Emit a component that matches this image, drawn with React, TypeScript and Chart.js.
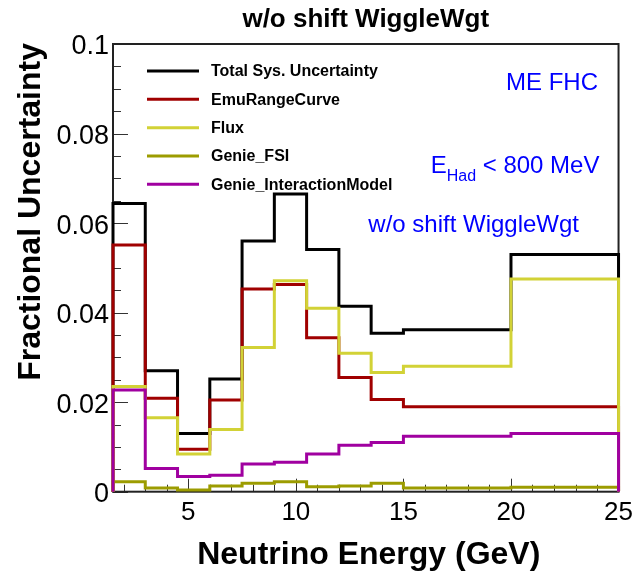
import { useEffect, useRef } from 'react';
import { Chart, registerables } from 'chart.js';

Chart.register(...registerables);

// ---- data ----
const binEdges = [1.5, 3, 4.5, 6, 7.5, 9, 10.5, 12, 13.5, 15, 20, 25];
const totalSys = [0.0644, 0.0270, 0.0130, 0.0252, 0.0560, 0.0665, 0.0541, 0.0414, 0.0354, 0.0362, 0.0530];
const emuRangeCurve = [0.0551, 0.0209, 0.0095, 0.0205, 0.0453, 0.0463, 0.0344, 0.0255, 0.0206, 0.0190, 0.0190];
const flux = [0.0235, 0.0165, 0.0084, 0.0139, 0.0322, 0.0471, 0.0410, 0.0309, 0.0266, 0.0280, 0.0475];
const genieFSI = [0.0022, 0.0008, 0.0004, 0.0013, 0.0019, 0.0022, 0.0011, 0.0013, 0.0019, 0.0008, 0.0010];
const genieInteraction = [0.0227, 0.0052, 0.0034, 0.0037, 0.0062, 0.0066, 0.0084, 0.0104, 0.0110, 0.0124, 0.0130];

const seriesLabels = ['Total Sys. Uncertainty', 'EmuRangeCurve', 'Flux', 'Genie_FSI', 'Genie_InteractionModel'];
const seriesColors = ['#000000', '#a00000', '#d2d236', '#9c9c00', '#a000a0'];

const xTickValues = [5, 10, 15, 20, 25];
const xMinorStep = 1;
const yTickValues = [0, 0.02, 0.04, 0.06, 0.08, 0.1];
const yMinorStep = 0.005;

const chartTitle = 'w/o shift WiggleWgt';
const xTitle = 'Neutrino Energy (GeV)';
const yTitle = 'Fractional Uncertainty';
const noteBeam = 'ME FHC';
const noteCutMain = 'E';
const noteCutSub = 'Had';
const noteCutRest = ' < 800 MeV';
const noteShift = 'w/o shift WiggleWgt';

const FONT = '"Liberation Sans", Arial, Helvetica, sans-serif';

function toStepPoints(vals: number[]) {
  const n = vals.length;
  const pts = [{ x: binEdges[0], y: 0 }];
  vals.forEach((v, i) => pts.push({ x: binEdges[i], y: v }));
  pts.push({ x: binEdges[n], y: vals[n - 1] });
  pts.push({ x: binEdges[n], y: 0 });
  return pts;
}

const rootPlugin = {
  id: 'rootStyle',
  beforeDatasetsDraw(chart: any) {
    const { ctx, chartArea: a, scales } = chart;
    const xs = scales.x;
    const ys = scales.y;
    ctx.save();
    ctx.strokeStyle = '#333';
    ctx.lineWidth = 1;
    // y ticks
    const yMin = ys.min, yMax = ys.max;
    const nY = Math.round((yMax - yMin) / yMinorStep);
    for (let k = 0; k <= nY; k++) {
      const v = yMin + k * yMinorStep;
      const major = yTickValues.some((t) => Math.abs(t - v) < 1e-9);
      const py = Math.round(ys.getPixelForValue(v)) + 0.5;
      const len = major ? 15 : 8;
      ctx.beginPath();
      ctx.moveTo(a.left, py);
      ctx.lineTo(a.left + len, py);
      ctx.stroke();
    }
    // x ticks
    for (let v = Math.ceil(xs.min); v <= xs.max + 1e-9; v += xMinorStep) {
      const major = xTickValues.includes(v);
      const px = Math.round(xs.getPixelForValue(v)) + 0.5;
      const len = major ? 13 : 7;
      ctx.beginPath();
      ctx.moveTo(px, a.bottom);
      ctx.lineTo(px, a.bottom - len);
      ctx.stroke();
    }
    // frame
    ctx.strokeStyle = '#222';
    ctx.lineWidth = 2;
    ctx.strokeRect(a.left, a.top, a.right - a.left, a.bottom - a.top);
    ctx.restore();
  },
  afterDraw(chart: any) {
    const { ctx, chartArea: a } = chart;
    ctx.save();
    // title
    ctx.fillStyle = '#000';
    ctx.font = `bold 26px ${FONT}`;
    ctx.textAlign = 'center';
    ctx.textBaseline = 'alphabetic';
    ctx.fillText(chartTitle, (a.left + a.right) / 2, 26.5);

    // x title
    ctx.font = `bold 32px ${FONT}`;
    ctx.fillText(xTitle, (a.left + a.right) / 2 + 3, 564);

    // y title (aligned to top of axis)
    ctx.save();
    ctx.translate(40, a.top - 1);
    ctx.rotate(-Math.PI / 2);
    ctx.textAlign = 'right';
    ctx.fillText(yTitle, 0, 0);
    ctx.restore();

    // legend
    const rowY = [71, 99.3, 127.7, 156, 184.3];
    ctx.font = `bold 16px ${FONT}`;
    ctx.textAlign = 'left';
    ctx.textBaseline = 'middle';
    chart.data.datasets.forEach((ds: any, i: number) => {
      const y = rowY[i];
      ctx.strokeStyle = ds.borderColor;
      ctx.lineWidth = 3;
      ctx.beginPath();
      ctx.moveTo(147, y);
      ctx.lineTo(199, y);
      ctx.stroke();
      ctx.fillStyle = '#000';
      ctx.fillText(ds.label, 211, y + 1);
    });

    // blue notes
    ctx.fillStyle = '#0000ff';
    ctx.textBaseline = 'alphabetic';
    ctx.font = `24px ${FONT}`;
    ctx.textAlign = 'right';
    ctx.fillText(noteBeam, 598, 90);

    ctx.textAlign = 'left';
    let x0 = 430.7;
    ctx.fillText(noteCutMain, x0, 173.3);
    x0 += ctx.measureText(noteCutMain).width;
    ctx.font = `16px ${FONT}`;
    ctx.fillText(noteCutSub, x0, 180.7);
    x0 += ctx.measureText(noteCutSub).width;
    ctx.font = `24px ${FONT}`;
    ctx.fillText(noteCutRest, x0, 173.3);

    ctx.fillText(noteShift, 368.3, 232);
    ctx.restore();
  },
};

export default function App() {
  const ref = useRef<HTMLCanvasElement>(null);
  useEffect(() => {
    const seriesValues = [totalSys, emuRangeCurve, flux, genieFSI, genieInteraction];
    const datasets = seriesValues.map((vals, i) => ({
      label: seriesLabels[i],
      data: toStepPoints(vals),
      borderColor: seriesColors[i],
      backgroundColor: seriesColors[i],
      borderWidth: 3,
      pointRadius: 0,
      pointHoverRadius: 0,
      stepped: true,
      fill: false,
      clip: 6,
      order: seriesValues.length - i,
    }));
    const chart = new Chart(ref.current as HTMLCanvasElement, {
      type: 'line',
      data: { datasets } as any,
      options: {
        responsive: false,
        animation: false,
        devicePixelRatio: 1,
        layout: { padding: { top: 44, right: 16, left: 0, bottom: 0 } },
        plugins: {
          legend: { display: false },
          title: { display: false },
          tooltip: { enabled: false },
        },
        scales: {
          x: {
            type: 'linear',
            min: binEdges[0],
            max: binEdges[binEdges.length - 1],
            grid: { display: false, drawTicks: false },
            border: { display: false },
            ticks: {
              font: { family: FONT, size: 26 },
              color: '#000',
              padding: 6,
              maxRotation: 0,
              autoSkip: false,
            },
            afterBuildTicks: (s: any) => {
              s.ticks = xTickValues.map((v) => ({ value: v }));
            },
            afterFit: (s: any) => {
              s.height = 87.3;
            },
          },
          y: {
            min: yTickValues[0],
            max: yTickValues[yTickValues.length - 1],
            grid: { display: false, drawTicks: false },
            border: { display: false },
            ticks: {
              font: { family: FONT, size: 27 },
              color: '#000',
              padding: 4,
              labelOffset: 3,
              callback: (v: any) => String(Number(Number(v).toFixed(3))),
            },
            afterBuildTicks: (s: any) => {
              s.ticks = yTickValues.map((v) => ({ value: v }));
            },
            afterFit: (s: any) => {
              s.width = 113;
            },
          },
        },
      } as any,
      plugins: [rootPlugin],
    });
    return () => chart.destroy();
  }, []);
  return (
    <div style={{ position: 'absolute', left: 0, top: 0, width: 639, height: 579, background: '#fff' }}>
      <canvas ref={ref} width={639} height={579} style={{ display: 'block', width: 639, height: 579 }} />
    </div>
  );
}
